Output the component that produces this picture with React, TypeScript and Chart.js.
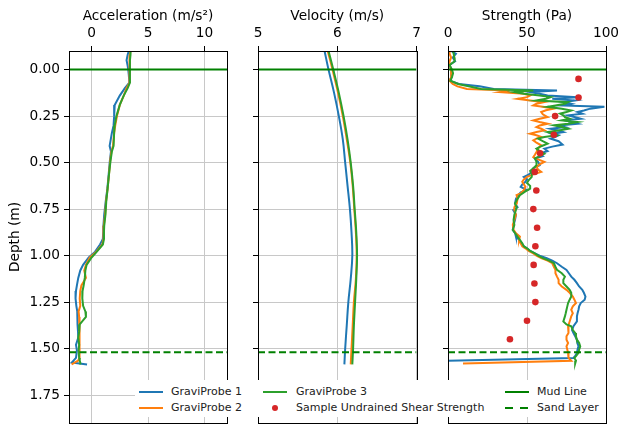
import React, { useEffect, useRef } from 'react';
import { Chart, registerables } from 'chart.js';

Chart.register(...registerables);

const W = 621;
const H = 428;
const FONT = 'DejaVu Sans';
const FONT_SIZE = 13.7;
const BLUE = '#1f77b4';
const ORANGE = '#ff7f0e';
const GREEN = '#2ca02c';
const RED = '#d62728';
const DARK_GREEN = '#008000';
const GRID = '#c8c8c8';

// ---- shared depth axis ----
const DEPTH_MIN = -0.1;
const DEPTH_MAX = 1.9;
const DEPTH_TICKS = [0, 0.25, 0.5, 0.75, 1.0, 1.25, 1.5, 1.75];
const MUD_LINE = 0;
const SAND_LAYER = 1.52;

// ---- acceleration panel ----
const ACC_MIN = -2;
const ACC_MAX = 12;
const ACC_TICKS = [0, 5, 10];
const ACC_DEPTH = [-0.1, -0.08, -0.05, -0.02, 0.0, 0.03, 0.07, 0.1, 0.14, 0.19, 0.25, 0.3, 0.34, 0.41, 0.44, 0.49, 0.56, 0.64, 0.71, 0.78, 0.84, 0.87, 0.91, 0.94, 0.98, 1.01, 1.05, 1.08, 1.12, 1.16, 1.19, 1.23, 1.27, 1.3, 1.33, 1.37, 1.41, 1.44, 1.48, 1.51, 1.55, 1.565, 1.575, 1.585];
const ACC_P1 = [3.3, 3.2, 3.1, 3.2, 3.25, 3.3, 3.35, 2.95, 2.5, 2.05, 2.0, 1.95, 1.8, 1.6, 1.72, 1.62, 1.52, 1.4, 1.25, 1.12, 1.05, 1.03, 1.0, 0.75, 0.3, -0.25, -0.75, -1.0, -1.18, -1.3, -1.38, -1.42, -1.35, -1.27, -1.25, -1.24, -1.2, -1.18, -1.38, -1.3, -1.38, -1.6, -1.75, -0.4];
const ACC_P2 = [3.45, 3.4, 3.35, 3.35, 3.35, 3.35, 3.4, 3.1, 2.85, 2.5, 2.25, 2.1, 2.0, 1.9, 1.76, 1.65, 1.55, 1.42, 1.28, 1.2, 1.08, 1.06, 1.05, 0.95, 0.4, -0.15, -0.5, -0.65, -0.5, -0.9, -1.0, -1.05, -1.0, -1.15, -1.1, -1.1, -1.05, -1.05, -1.05, -1.1, -1.05, -1.2, -1.5, -1.77];
const ACC_P3 = [3.45, 3.45, 3.4, 3.4, 3.4, 3.4, 3.4, 3.2, 2.85, 2.5, 2.2, 2.05, 2.0, 1.95, 1.8, 1.68, 1.55, 1.42, 1.3, 1.23, 1.12, 1.1, 1.1, 1.0, 0.45, 0.0, -0.44, -0.55, -0.6, -0.7, -0.8, -0.82, -0.75, -0.55, -0.5, -1.05, -1.1, -1.18, -1.1, -1.15, -1.1, -1.05, -1.0, -1.0];

// ---- velocity panel ----
const VEL_MIN = 5;
const VEL_MAX = 7;
const VEL_TICKS = [5, 6, 7];
const VEL_DEPTH = [-0.1, 0, 0.125, 0.25, 0.375, 0.5, 0.625, 0.75, 0.875, 1.0, 1.125, 1.25, 1.375, 1.5, 1.585];
const VEL_P1 = [5.84, 5.89, 5.96, 6.02, 6.07, 6.1, 6.13, 6.16, 6.18, 6.19, 6.17, 6.14, 6.12, 6.1, 6.09];
const VEL_P2 = [5.88, 5.94, 6.01, 6.07, 6.12, 6.165, 6.195, 6.215, 6.235, 6.245, 6.235, 6.21, 6.195, 6.18, 6.17];
const VEL_P3 = [5.89, 5.95, 6.02, 6.08, 6.13, 6.17, 6.2, 6.22, 6.24, 6.25, 6.24, 6.225, 6.21, 6.2, 6.19];

// ---- strength panel ----
const STR_MIN = 0;
const STR_MAX = 100;
const STR_TICKS = [0, 50, 100];
const STR_D1 = [-0.1, -0.085, -0.065, -0.045, -0.025, 0.0, 0.02, 0.04, 0.06, 0.077, 0.09, 0.104, 0.113, 0.121, 0.13, 0.139, 0.148, 0.157, 0.166, 0.175, 0.184, 0.193, 0.2, 0.21, 0.22, 0.228, 0.237, 0.246, 0.255, 0.264, 0.273, 0.282, 0.291, 0.3, 0.309, 0.318, 0.327, 0.336, 0.345, 0.353, 0.362, 0.371, 0.385, 0.403, 0.414, 0.425, 0.438, 0.452, 0.465, 0.478, 0.496, 0.514, 0.53, 0.55, 0.565, 0.577, 0.59, 0.603, 0.617, 0.63, 0.648, 0.66, 0.675, 0.695, 0.72, 0.74, 0.755, 0.78, 0.809, 0.835, 0.862, 0.88, 0.898, 0.915, 0.934, 0.95, 0.961, 0.975, 0.988, 1.0, 1.014, 1.027, 1.041, 1.06, 1.077, 1.095, 1.113, 1.13, 1.148, 1.166, 1.184, 1.2, 1.22, 1.237, 1.255, 1.273, 1.291, 1.31, 1.327, 1.354, 1.38, 1.4, 1.416, 1.434, 1.452, 1.47, 1.488, 1.505, 1.523, 1.54, 1.55, 1.565];
const STR_P1 = [2, 5, 3, 4.5, 1, 2, 2.5, 2, 1, 7, 20, 29, 69, 52, 58, 63, 82, 66, 80, 73, 78, 73, 99, 90, 86, 82, 85, 76, 80, 84, 74, 78, 82, 70, 74, 65, 70, 73, 66, 70, 68, 65, 70, 72.5, 66, 61, 63, 58, 60, 55, 57, 58, 54, 53, 51, 48, 50, 49, 47, 46, 50, 46, 44.5, 43, 42.4, 44, 41.3, 43, 42.4, 41.5, 41, 42.5, 43, 45, 46.6, 48, 50, 52, 55, 58, 62.5, 66, 69, 72, 75, 76.5, 78, 80, 81.6, 83, 85, 86, 87, 86.5, 84, 83, 82.6, 82, 81.6, 81.6, 79.4, 78.5, 79.4, 80.5, 81.6, 82, 82.6, 82, 81.6, 80.5, 79.4, 0];
const STR_D2 = [-0.1, -0.085, -0.065, -0.045, -0.025, 0.0, 0.02, 0.04, 0.06, 0.077, 0.09, 0.104, 0.113, 0.121, 0.13, 0.139, 0.148, 0.157, 0.166, 0.175, 0.184, 0.193, 0.2, 0.21, 0.219, 0.228, 0.24, 0.255, 0.264, 0.273, 0.282, 0.291, 0.3, 0.309, 0.318, 0.327, 0.336, 0.345, 0.353, 0.362, 0.371, 0.38, 0.393, 0.407, 0.425, 0.443, 0.458, 0.47, 0.483, 0.496, 0.51, 0.523, 0.537, 0.55, 0.563, 0.577, 0.59, 0.603, 0.617, 0.63, 0.648, 0.666, 0.675, 0.695, 0.72, 0.74, 0.755, 0.78, 0.809, 0.835, 0.862, 0.88, 0.898, 0.915, 0.934, 0.95, 0.961, 0.975, 0.988, 1.0, 1.014, 1.027, 1.041, 1.06, 1.077, 1.095, 1.113, 1.13, 1.148, 1.166, 1.184, 1.2, 1.22, 1.237, 1.255, 1.273, 1.291, 1.31, 1.327, 1.354, 1.38, 1.4, 1.416, 1.434, 1.452, 1.47, 1.488, 1.505, 1.523, 1.54, 1.55, 1.565, 1.58];
const STR_P2 = [1, 1, 2, 1, 1, 2, 2, 2, 1, 3, 6, 12, 39, 33, 48, 52, 50, 44, 52, 61, 56, 54, 60, 67, 62, 59, 60, 63, 58, 54, 58, 63, 58, 56, 59, 61, 56, 52, 56, 59, 56, 54, 56, 59, 57, 56, 55, 54, 57, 61, 58, 56, 57, 59, 54, 50, 48, 47, 48, 49, 48, 46, 43.4, 44, 43.5, 42, 42, 43, 42, 41, 41.5, 43, 45.5, 45, 46, 47, 49, 51, 54, 56, 59, 63, 66, 67, 68, 68, 69, 70, 70, 72, 75, 77, 79, 80, 81, 79, 78, 79, 78, 77, 76, 76.5, 76, 75, 75, 76, 75, 75.5, 76, 76.5, 76, 78, 9.5];
const STR_D3 = [-0.1, -0.085, -0.065, -0.045, -0.025, 0.0, 0.02, 0.04, 0.06, 0.077, 0.09, 0.104, 0.113, 0.121, 0.13, 0.139, 0.148, 0.157, 0.166, 0.175, 0.184, 0.193, 0.2, 0.21, 0.22, 0.228, 0.237, 0.246, 0.255, 0.264, 0.273, 0.282, 0.291, 0.3, 0.309, 0.318, 0.327, 0.336, 0.345, 0.353, 0.362, 0.371, 0.385, 0.398, 0.412, 0.425, 0.438, 0.452, 0.465, 0.478, 0.496, 0.514, 0.53, 0.545, 0.56, 0.577, 0.595, 0.61, 0.625, 0.64, 0.655, 0.675, 0.695, 0.72, 0.74, 0.755, 0.78, 0.809, 0.835, 0.862, 0.88, 0.898, 0.915, 0.934, 0.95, 0.961, 0.975, 0.988, 1.0, 1.014, 1.027, 1.041, 1.06, 1.077, 1.095, 1.113, 1.13, 1.148, 1.166, 1.184, 1.2, 1.22, 1.237, 1.255, 1.273, 1.291, 1.31, 1.327, 1.354, 1.37, 1.38, 1.4, 1.416, 1.434, 1.452, 1.47, 1.488, 1.505, 1.523, 1.54, 1.55, 1.565, 1.58];
const STR_P3 = [3, 3.6, 4, 4.2, 1, 2.5, 3.2, 2.5, 1.5, 6.4, 13, 21, 54, 42, 48, 58, 65, 62, 56, 76, 74, 68, 63, 72, 78, 75, 71, 73, 74, 77, 72, 82, 76, 67, 72, 76, 70, 63, 67, 69, 61, 57, 60, 63, 59, 56, 58, 61, 58, 55, 56, 56, 54, 52, 53, 53, 51, 50, 52, 52, 49, 45.5, 44, 42.4, 43.5, 43, 42, 41.5, 42, 41, 42.5, 44, 45.5, 47, 48, 50, 52, 55, 57, 60, 64, 67, 68, 69, 72, 74, 73, 73, 75, 77, 78, 78, 77, 76, 75.5, 75, 74.5, 74, 73, 75, 78, 79, 80.5, 81, 81.6, 83, 83.7, 83, 82.6, 81, 80, 81, 80.5];
const SAMPLE_DEPTH = [0.05, 0.15, 0.25, 0.35, 0.45, 0.55, 0.65, 0.75, 0.85, 0.95, 1.05, 1.15, 1.25, 1.35, 1.45];
const SAMPLE_STRENGTH = [82.6, 82.6, 67.8, 67.0, 58.3, 54.9, 55.9, 54.0, 56.4, 55.3, 54.2, 54.7, 55.3, 50.0, 39.2];

const PROBE_NAMES = ['GraviProbe 1', 'GraviProbe 2', 'GraviProbe 3'];
const PROBE_COLORS = [BLUE, ORANGE, GREEN];

// plot area geometry (pixels)
const AREA_TOP = 51;
const AREA_BOTTOM = 423;
const PANELS = [
  { left: 69, right: 227 },
  { left: 258, right: 416.5 },
  { left: 448, right: 606 },
];

const pts = (xs: number[], ds: number[]) => xs.map((x, i) => ({ x, y: ds[i] }));

const framePlugin = {
  id: 'frame',
  afterDatasetsDraw(chart: any) {
    const { ctx, chartArea: a } = chart;
    ctx.save();
    ctx.strokeStyle = '#000';
    ctx.lineWidth = 1;
    ctx.strokeRect(Math.round(a.left) + 0.5, Math.round(a.top) + 0.5, Math.round(a.right - a.left), Math.round(a.bottom - a.top));
    ctx.restore();
  },
};

function makeConfig(
  panelIndex: number,
  xMin: number,
  xMax: number,
  xTicks: number[],
  xTitle: string,
  curves: { values: number[]; depths: number[] }[],
  tension: number,
  withSamples: boolean
) {
  const area = PANELS[panelIndex];
  const first = panelIndex === 0;
  const yWidth = first ? area.left : 10;
  const datasets: any[] = [];
  curves.forEach((c, i) => {
    datasets.push({
      label: PROBE_NAMES[i],
      data: pts(c.values, c.depths),
      showLine: true,
      borderColor: PROBE_COLORS[i],
      backgroundColor: PROBE_COLORS[i],
      borderWidth: 2,
      pointRadius: 0,
      tension,
      order: 4 - i,
    });
  });
  datasets.push({
    label: 'Mud Line',
    data: [{ x: xMin, y: MUD_LINE }, { x: xMax, y: MUD_LINE }],
    showLine: true,
    borderColor: DARK_GREEN,
    borderWidth: 2,
    pointRadius: 0,
    order: 1,
  });
  datasets.push({
    label: 'Sand Layer',
    data: [{ x: xMin, y: SAND_LAYER }, { x: xMax, y: SAND_LAYER }],
    showLine: true,
    borderColor: DARK_GREEN,
    borderWidth: 2,
    borderDash: [7, 3.5],
    pointRadius: 0,
    order: 1,
  });
  if (withSamples) {
    datasets.push({
      label: 'Sample Undrained Shear Strength',
      data: pts(SAMPLE_STRENGTH, SAMPLE_DEPTH),
      showLine: false,
      pointRadius: 3.3,
      pointBorderWidth: 0,
      backgroundColor: RED,
      borderColor: RED,
      order: 0,
    });
  }
  const font = { family: FONT, size: FONT_SIZE };
  return {
    type: 'scatter',
    data: { datasets },
    plugins: [framePlugin],
    options: {
      animation: false,
      responsive: false,
      devicePixelRatio: 1,
      events: [],
      layout: {
        padding: {
          left: area.left - yWidth,
          right: W - area.right,
          top: 0,
          bottom: H - AREA_BOTTOM,
        },
      },
      plugins: { legend: { display: false }, tooltip: { enabled: false } },
      scales: {
        x: {
          type: 'linear',
          position: 'top',
          min: xMin,
          max: xMax,
          afterBuildTicks: (s: any) => {
            s.ticks = xTicks.map((v) => ({ value: v }));
          },
          afterFit: (s: any) => {
            s.height = AREA_TOP;
            s.paddingLeft = 0;
            s.paddingRight = 0;
          },
          border: { display: false },
          grid: { color: GRID, lineWidth: 1, tickColor: '#000', tickLength: 5, tickWidth: 1 },
          ticks: {
            autoSkip: false,
            maxRotation: 0,
            padding: 4,
            color: '#000',
            font,
            callback: (v: any) => String(v),
          },
          title: { display: true, text: xTitle, color: '#000', font, padding: { top: 8.5, bottom: 0 } },
        },
        y: {
          type: 'linear',
          position: 'left',
          reverse: true,
          min: DEPTH_MIN,
          max: DEPTH_MAX,
          afterBuildTicks: (s: any) => {
            s.ticks = DEPTH_TICKS.map((v) => ({ value: v }));
          },
          afterFit: (s: any) => {
            s.width = yWidth;
            s.paddingTop = 0;
            s.paddingBottom = 0;
          },
          border: { display: false },
          grid: { color: GRID, lineWidth: 1, tickColor: '#000', tickLength: 5, tickWidth: 1 },
          ticks: {
            display: first,
            autoSkip: false,
            padding: 4,
            color: '#000',
            font,
            callback: (v: any) => Number(v).toFixed(2),
          },
          title: { display: first, text: 'Depth (m)', color: '#000', font, padding: { top: 7, bottom: 0 } },
        },
      },
    },
  } as any;
}

const legendText: React.CSSProperties = {
  position: 'absolute',
  fontFamily: FONT,
  fontSize: 11,
  lineHeight: '13px',
  color: '#222',
  whiteSpace: 'nowrap',
};

function Swatch({ x, y, color, dashed }: { x: number; y: number; color: string; dashed?: boolean }) {
  if (dashed) {
    return (
      <>
        <div style={{ position: 'absolute', left: x, top: y - 1, width: 8, height: 2, background: color }} />
        <div style={{ position: 'absolute', left: x + 15, top: y - 1, width: 8, height: 2, background: color }} />
      </>
    );
  }
  return <div style={{ position: 'absolute', left: x, top: y - 1, width: 24, height: 2, background: color }} />;
}

function Legend() {
  const r1 = 391.7;
  const r2 = 407.7;
  const t = (y: number) => y - 6.5;
  return (
    <div style={{ position: 'absolute', left: 0, top: 0, width: W, height: H, pointerEvents: 'none' }}>
      <div style={{ position: 'absolute', left: 135, top: 380, width: 471, height: 37, background: '#fff' }} />
      <Swatch x={139} y={r1} color={BLUE} />
      <div style={{ ...legendText, left: 171, top: t(r1) }}>{PROBE_NAMES[0]}</div>
      <Swatch x={139} y={r2} color={ORANGE} />
      <div style={{ ...legendText, left: 171, top: t(r2) }}>{PROBE_NAMES[1]}</div>
      <Swatch x={263} y={r1} color={GREEN} />
      <div style={{ ...legendText, left: 296, top: t(r1) }}>{PROBE_NAMES[2]}</div>
      <div style={{ position: 'absolute', left: 272, top: r2 - 3, width: 6, height: 6, borderRadius: 3, background: RED }} />
      <div style={{ ...legendText, left: 296, top: t(r2) }}>Sample Undrained Shear Strength</div>
      <Swatch x={505} y={r1} color={DARK_GREEN} />
      <div style={{ ...legendText, left: 537, top: t(r1) }}>Mud Line</div>
      <Swatch x={505} y={r2} color={DARK_GREEN} dashed />
      <div style={{ ...legendText, left: 537, top: t(r2) }}>Sand Layer</div>
    </div>
  );
}

export default function App() {
  const c1 = useRef<HTMLCanvasElement>(null);
  const c2 = useRef<HTMLCanvasElement>(null);
  const c3 = useRef<HTMLCanvasElement>(null);

  useEffect(() => {
    const charts: Chart[] = [];
    if (c1.current)
      charts.push(
        new Chart(
          c1.current,
          makeConfig(0, ACC_MIN, ACC_MAX, ACC_TICKS, 'Acceleration (m/s²)', [
            { values: ACC_P1, depths: ACC_DEPTH },
            { values: ACC_P2, depths: ACC_DEPTH },
            { values: ACC_P3, depths: ACC_DEPTH },
          ], 0, false)
        )
      );
    if (c2.current)
      charts.push(
        new Chart(
          c2.current,
          makeConfig(1, VEL_MIN, VEL_MAX, VEL_TICKS, 'Velocity (m/s)', [
            { values: VEL_P1, depths: VEL_DEPTH },
            { values: VEL_P2, depths: VEL_DEPTH },
            { values: VEL_P3, depths: VEL_DEPTH },
          ], 0.4, false)
        )
      );
    if (c3.current)
      charts.push(
        new Chart(
          c3.current,
          makeConfig(2, STR_MIN, STR_MAX, STR_TICKS, 'Strength (Pa)', [
            { values: STR_P1, depths: STR_D1 },
            { values: STR_P2, depths: STR_D2 },
            { values: STR_P3, depths: STR_D3 },
          ], 0, true)
        )
      );
    return () => charts.forEach((c) => c.destroy());
  }, []);

  const cs: React.CSSProperties = { position: 'absolute', left: 0, top: 0, width: W, height: H };
  return (
    <div style={{ position: 'absolute', left: 0, top: 0, width: W, height: H, background: '#fff', overflow: 'hidden' }}>
      <canvas ref={c1} width={W} height={H} style={cs} />
      <canvas ref={c2} width={W} height={H} style={cs} />
      <canvas ref={c3} width={W} height={H} style={cs} />
      <Legend />
    </div>
  );
}
